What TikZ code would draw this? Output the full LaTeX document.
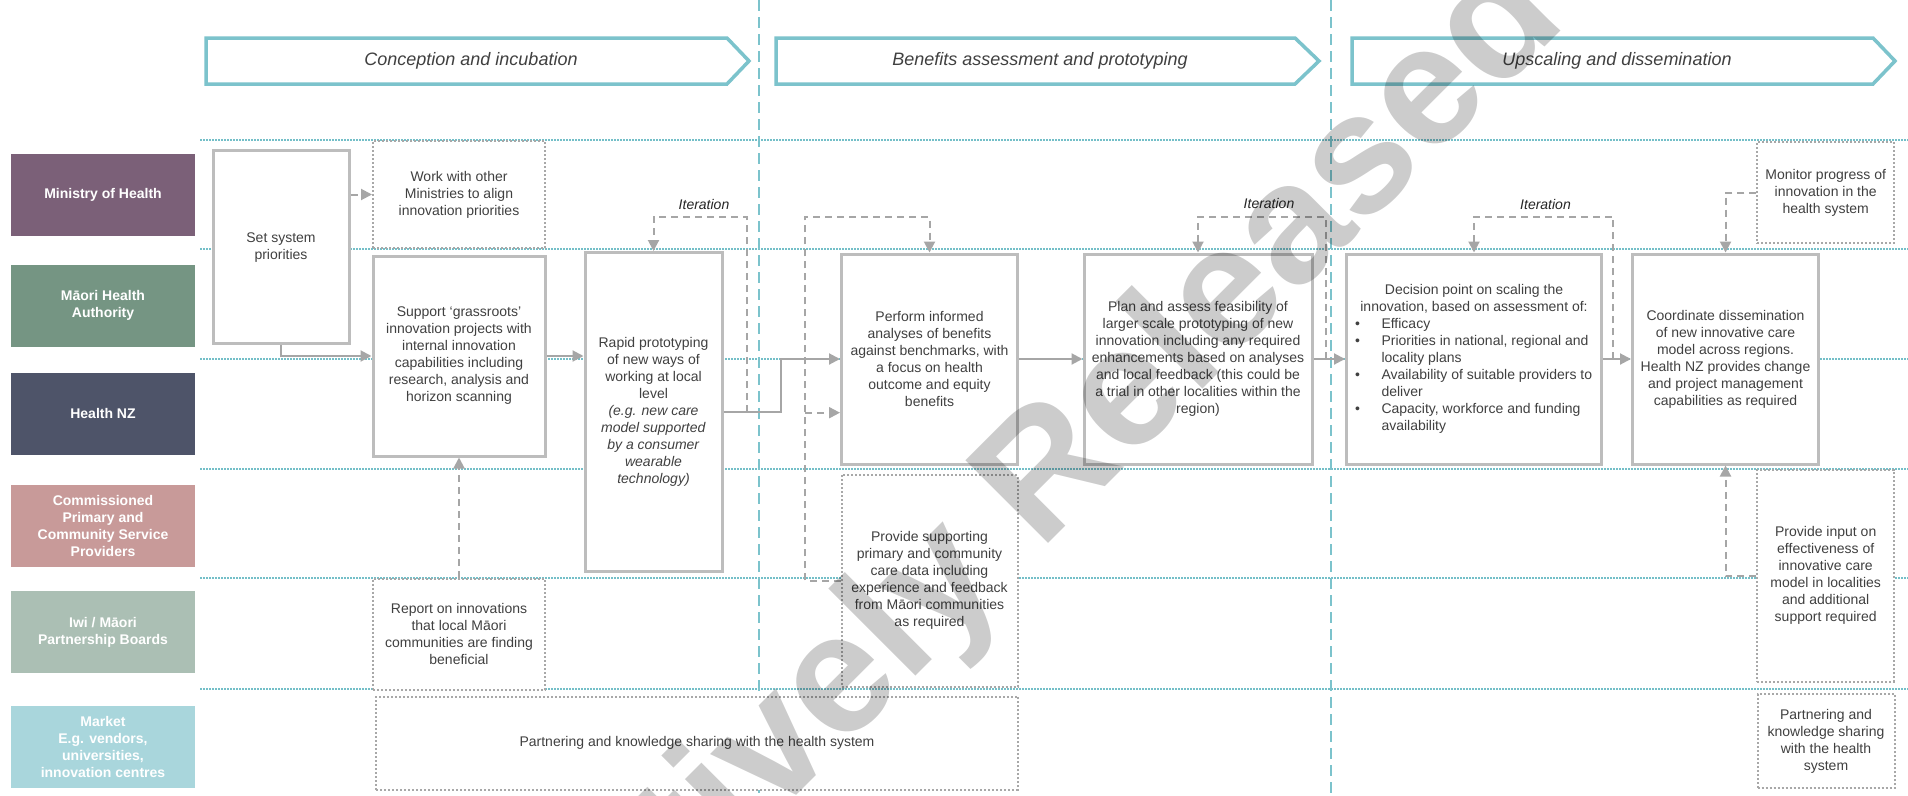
\documentclass[tikz,border=0pt]{standalone}
\usepackage{fontspec}
\setmainfont{Liberation Sans}
\usetikzlibrary{arrows.meta,calc}
\definecolor{tealA}{HTML}{7CC3CC}
\definecolor{tealB}{HTML}{74BFC8}
\definecolor{boxgray}{HTML}{BDBDBD}
\definecolor{dotgray}{HTML}{A8A8A8}
\definecolor{conngray}{HTML}{A6A6A6}
\definecolor{txt}{HTML}{404040}
\definecolor{cMin}{HTML}{7B6078}
\definecolor{cMaori}{HTML}{759583}
\definecolor{cHNZ}{HTML}{4E5469}
\definecolor{cComm}{HTML}{C89A99}
\definecolor{cIwi}{HTML}{ABBFB4}
\definecolor{cMarket}{HTML}{A9D6DC}
\tikzset{
  lab/.style={fill=#1, text=white, font=\fontsize{14}{17}\selectfont\bfseries, align=center,
    minimum width=184pt, minimum height=82pt, inner sep=0pt},
  sboxbase/.style={draw=boxgray, line width=3pt, fill=white, text=txt,
    font=\fontsize{14}{17}\selectfont, inner sep=0pt},
  sbox/.style={sboxbase, align=center},
  dbox/.style={draw=dotgray, line width=2pt, dash pattern=on 2pt off 2pt, fill=white, text=txt,
    font=\fontsize{14}{17}\selectfont, align=center, inner sep=0pt},
  conn/.style={draw=conngray, line width=2pt, -{Triangle[length=11pt,width=11pt]}},
  dconn/.style={conn, dash pattern=on 7pt off 5pt},
  rowline/.style={draw=tealB, line width=2pt, dash pattern=on 1.5pt off 1.5pt},
  phasesep/.style={draw=tealA, line width=1.6pt, dash pattern=on 11pt off 6pt},
  phase/.style={draw=tealA, line width=3.5pt, fill=white, line join=miter},
  phasetxt/.style={text=txt, font=\fontsize{18}{22}\selectfont\itshape, inner sep=0pt},
  iter/.style={text=black!85, font=\fontsize{14}{17}\selectfont\itshape, inner sep=0pt}
}
\begin{document}
\begin{tikzpicture}[x=1pt,y=-1pt]
\path[use as bounding box] (0,0) rectangle (1908,795);
\clip (0,0) rectangle (1908,795);
\fill[white] (0,0) rectangle (1908,795);

% row lines
\foreach \yy in {140,249.3,359,469.3,578.3,689.3}
  \draw[rowline] (200,\yy) -- (1908,\yy);
% phase separators
\draw[phasesep] (759,0) -- (759,795);
\draw[phasesep] (1331,0) -- (1331,795);

% phase arrows
\draw[phase] (206,38) -- (727,38) -- (749,61) -- (727,84) -- (206,84) -- cycle;
\node[phasetxt] (ph1) at (471,61) {Conception and incubation};
\draw[phase] (776,38) -- (1295,38) -- (1319,61) -- (1295,84) -- (776,84) -- cycle;
\node[phasetxt] (ph2) at (1040,61) {Benefits assessment and prototyping};
\draw[phase] (1352,38) -- (1873,38) -- (1895,61) -- (1873,84) -- (1352,84) -- cycle;
\node[phasetxt] (ph3) at (1617,61) {Upscaling and dissemination};

% lane labels
\node[lab=cMin] (lMin) at (103,194.5) {Ministry of Health};
\node[lab=cMaori] (lMaori) at (103,305.5) {Māori Health\\Authority};
\node[lab=cHNZ] (lHNZ) at (103,413.5) {Health NZ};
\node[lab=cComm] (lComm) at (103,525.5) {Commissioned\\Primary and\\Community Service\\Providers};
\node[lab=cIwi] (lIwi) at (103,632) {Iwi / Māori\\Partnership Boards};
\node[lab=cMarket] (lMarket) at (103,746.5) {Market\\E.g. vendors,\\universities,\\innovation centres};

% boxes
\node[sbox, minimum width=136pt, minimum height=193pt] (set) at (281,247.3) {Set system\\priorities};
\node[dbox, minimum width=172pt, minimum height=107pt] (work) at (459,194.5) {Work with other\\Ministries to align\\innovation priorities};
\node[sbox, minimum width=172pt, minimum height=200pt] (support) at (459,356) {Support ‘grassroots’\\innovation projects with\\internal innovation\\capabilities including\\research, analysis and\\horizon scanning};
\node[sbox, minimum width=137pt, minimum height=319pt] (rapid) at (653.5,412) {Rapid prototyping\\of new ways of\\working at local\\level\\\textit{(e.g. new care}\\\textit{model supported}\\\textit{by a consumer}\\\textit{wearable}\\\textit{technology)}};
\node[dbox, minimum width=172pt, minimum height=111pt] (report) at (459,634) {Report on innovations\\that local Māori\\communities are finding\\beneficial};
\node[dbox, minimum width=641.5pt, minimum height=93.3pt] (partL) at (697,743.3) {Partnering and knowledge sharing with the health system};
\node[sbox, minimum width=176pt, minimum height=210pt] (perform) at (929.5,359) {Perform informed\\analyses of benefits\\against benchmarks, with\\a focus on health\\outcome and equity\\benefits};
\node[dbox, minimum width=176pt, minimum height=211.7pt] (provsupp) at (929.5,580.8) {Provide supporting\\primary and community\\care data including\\experience and feedback\\from Māori communities\\as required};
\node[sbox, minimum width=228pt, minimum height=210pt] (plan) at (1198,359) {Plan and assess feasibility of\\larger scale prototyping of new\\innovation including any required\\enhancements based on analyses\\and local feedback (this could be\\a trial in other localities within the\\region)};
\node[sboxbase, minimum width=255pt, minimum height=210pt] (decision) at (1474,359) {\parbox{238pt}{\centering Decision point on scaling the\\innovation, based on assessment of:\par
\raggedright\makebox[26.5pt][l]{•}Efficacy\\
\makebox[26.5pt][l]{•}Priorities in national, regional and\\
\hspace*{26.5pt}locality plans\\
\makebox[26.5pt][l]{•}Availability of suitable providers to\\
\hspace*{26.5pt}deliver\\
\makebox[26.5pt][l]{•}Capacity, workforce and funding\\
\hspace*{26.5pt}availability\par}};
\node[sbox, minimum width=186pt, minimum height=210pt] (coord) at (1725.5,359) {Coordinate dissemination\\of new innovative care\\model across regions.\\Health NZ provides change\\and project management\\capabilities as required};
\node[dbox, minimum width=136.5pt, minimum height=101.6pt] (monitor) at (1825.7,192.5) {Monitor progress of\\innovation in the\\health system};
\node[dbox, minimum width=136.5pt, minimum height=211.7pt] (provinput) at (1825.7,575.8) {Provide input on\\effectiveness of\\innovative care\\model in localities\\and additional\\support required};
\node[dbox, minimum width=137pt, minimum height=94pt] (partR) at (1826,741.3) {Partnering and\\knowledge sharing\\with the health\\system};

% named helper points
\coordinate (j1) at (781,359);
\coordinate (it1r) at (746.5,412);
\coordinate (l1t) at (653.5,216.7);
\coordinate (ps1) at (805,580.8);
\coordinate (ps2) at (805,216.7);
\coordinate (ps3) at (805,412.7);
\coordinate (l3r) at (1325.5,359);
\coordinate (l3t) at (1198,216.7);
\coordinate (l4r) at (1613.3,359);
\coordinate (l4t) at (1474,216.7);

% solid connectors
\draw[conn] (set.south) |- (support.west);
\draw[conn] (support.east) -- (rapid.west |- support.east);
\draw[conn] (rapid.east) -| (j1) -- (perform.west);
\draw[conn] (perform.east) -- (plan.west);
\draw[conn] (plan.east) -- (decision.west);
\draw[conn] (decision.east) -- (coord.west);

% dashed connectors
\draw[dconn] (set.east |- work.west) -- (work.west);
\draw[dconn] (report.north) -- (support.south);
\draw[dconn] (it1r) |- (l1t) -- (rapid.north);
\draw[dconn] (provsupp.west) -- (ps1) -- (ps2) -| (perform.north);
\draw[dconn] (ps3) -- (ps3 -| perform.west);
\draw[dconn] (l3r) |- (l3t) -- (plan.north);
\draw[dconn] (l4r) |- (l4t) -- (decision.north);
\draw[dconn] (monitor.west) -| (coord.north);
\draw[dconn] (provinput.west) -| (coord.south);

% iteration labels
\node[iter] (it1) at (704,204) {Iteration};
\node[iter] (it3) at (1269,203) {Iteration};
\node[iter] (it4) at (1545.5,204) {Iteration};

% watermark
\node[rotate=45, anchor=base west, inner sep=0pt, text=black, text opacity=0.2,
  font=\fontsize{170}{170}\selectfont\bfseries] (wm) at (366,1226) {Proactively Released};
\end{tikzpicture}
\end{document}
